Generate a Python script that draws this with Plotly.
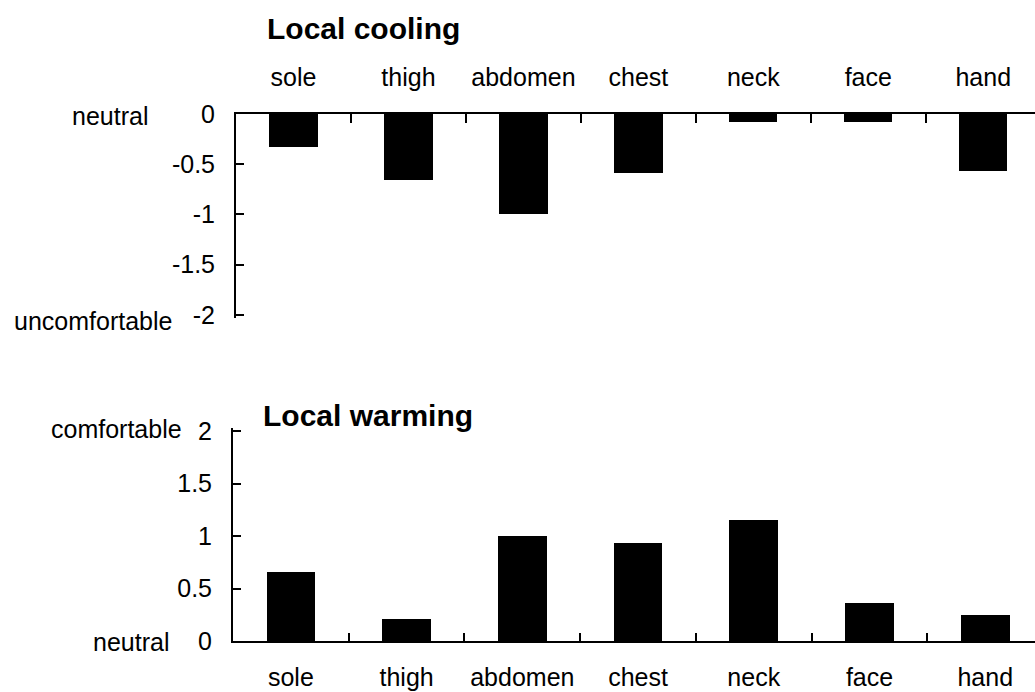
import plotly.graph_objects as go

# Body sites and mean comfort votes
sites = ["sole", "thigh", "abdomen", "chest", "neck", "face", "hand"]
cooling = [-0.33, -0.66, -1.0, -0.59, -0.08, -0.08, -0.57]
warming = [0.65, 0.21, 1.0, 0.93, 1.15, 0.36, 0.24]

cooling_ticks = [0, -0.5, -1, -1.5, -2]
warming_ticks = [0, 0.5, 1, 1.5, 2]

FONT = "Arial, Liberation Sans, sans-serif"
W, H = 1035, 692

fig = go.Figure()
fig.add_trace(go.Bar(x=sites, y=cooling, xaxis="x", yaxis="y",
                     marker=dict(color="black", line=dict(width=0)),
                     width=0.42, showlegend=False))
fig.add_trace(go.Bar(x=sites, y=warming, xaxis="x2", yaxis="y2",
                     marker=dict(color="black", line=dict(width=0)),
                     width=0.42, showlegend=False))

axis_common = dict(showline=True, linecolor="black", linewidth=2,
                   ticks="inside", tickcolor="black", tickwidth=2,
                   showgrid=False, zeroline=False, automargin=False,
                   tickfont=dict(family=FONT, size=25, color="black"))

# a little headroom past the end ticks so the +/-2 ticks are drawn
PAD = 0.025

fig.update_layout(
    template="none",
    width=W, height=H,
    margin=dict(l=0, r=0, t=0, b=0, pad=0),
    paper_bgcolor="white", plot_bgcolor="white",
    font=dict(family=FONT, color="black"),
    bargap=0,
    xaxis=dict(domain=[236 / W, 1], anchor="y", side="top",
               type="category", range=[-0.5, 6.45],
               tickson="boundaries", ticklen=9,
               ticklabelstandoff=16, **axis_common),
    yaxis=dict(domain=[1 - 317.5 / H, 1 - 114 / H], anchor="x",
               range=[-2 - PAD, 0], tickvals=cooling_ticks,
               ticktext=[str(v) for v in cooling_ticks],
               ticklen=8, ticklabelstandoff=14, **axis_common),
    xaxis2=dict(domain=[233 / W, 1], anchor="y2", side="bottom",
                type="category", range=[-0.5, 6.43],
                tickson="boundaries", ticklen=8,
                ticklabelstandoff=13, **axis_common),
    yaxis2=dict(domain=[1 - 641 / H, 1 - 428.4 / H], anchor="x2",
                range=[0, 2 + PAD], tickvals=warming_ticks,
                ticktext=[str(v) for v in warming_ticks],
                ticklen=8, ticklabelstandoff=14, **axis_common),
)

def label(text, x, y, size=25, bold=False, anchor="right"):
    fig.add_annotation(text=f"<b>{text}</b>" if bold else text,
                       x=x / W, y=1 - y / H, xref="paper", yref="paper",
                       xanchor=anchor, yanchor="middle", showarrow=False,
                       font=dict(family=FONT, size=size, color="black"))

# Panel titles
label("Local cooling", 265, 28, size=30, bold=True, anchor="left")
label("Local warming", 261, 415, size=30, bold=True, anchor="left")

# Verbal anchors of the rating scale
label("neutral", 150, 116)
label("uncomfortable", 174, 321)
label("comfortable", 184, 429)
label("neutral", 171, 642)

fig.write_html("out.html")
